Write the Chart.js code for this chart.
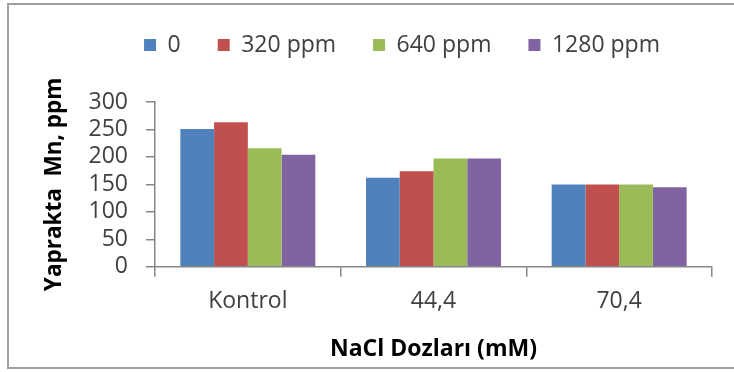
<!DOCTYPE html>
<html lang="tr">
<head>
  <meta charset="UTF-8">
  <script src="https://cdn.jsdelivr.net/npm/chart.js@4"></script>
  <title>Yaprakta Mn</title>
  <style>
    body { margin: 0; background: #fff; }
    #frame { position: absolute; left: 7px; top: 3px; width: 740px; height: 362px; border: 2px solid #a0a0a0; }
    #mnChart { position: absolute; left: 0; top: 0; }
  </style>
</head>
<body>
  <div id="frame"></div>
  <canvas id="mnChart" width="734" height="372"></canvas>

  <script>
    // NaCl doses on the x axis
    const doses = ['Kontrol', '44,4', '70,4'];
    // Mn treatments (legend)
    const treatments = ['0', '320 ppm', '640 ppm', '1280 ppm'];
    // leaf Mn, ppm
    const mn0    = [251, 162, 150];
    const mn320  = [263, 174, 150];
    const mn640  = [216, 197, 150];
    const mn1280 = [204, 197, 145];
    const yTicks = [0, 50, 100, 150, 200, 250, 300];

    const colors = ['#4F81BD', '#C0504D', '#9BBB59', '#8064A2'];
    const axisGray = '#868686';
    const textGray = '#404040';

    // put the legend where Excel had it (centred over the plot, near the top)
    const legendPlace = {
      id: 'legendPlace',
      afterLayout(chart) {
        const lg = chart.legend;
        const pad = lg.options.labels.padding;
        const fs = lg.options.labels.font.size;
        const dy = 45 - (lg.top + pad + fs / 2);
        const dx = 402 - (lg.left + lg.right) / 2;
        lg.top += dy; lg.bottom += dy;
        lg.left += dx; lg.right += dx;
      }
    };

    const ctx = document.getElementById('mnChart').getContext('2d');
    const chart = new Chart(ctx, {
      type: 'bar',
      data: {
        labels: doses,
        datasets: [mn0, mn320, mn640, mn1280].map((vals, i) => ({
          label: treatments[i],
          data: vals,
          backgroundColor: colors[i],
          borderWidth: 0
        }))
      },
      options: {
        responsive: false,
        animation: false,
        layout: { padding: { top: 32, right: 22, bottom: 4, left: 0 } },
        datasets: {
          bar: { categoryPercentage: 0.727, barPercentage: 1 }
        },
        plugins: {
          tooltip: { enabled: false },
          legend: {
            position: 'top',
            labels: {
              boxWidth: 12,
              boxHeight: 12,
              padding: 37,
              color: textGray,
              font: { family: 'Open Sans', size: 23 }
            }
          }
        },
        scales: {
          x: {
            grid: { drawOnChartArea: false, drawTicks: true, tickLength: 10, color: axisGray, lineWidth: 1.5 },
            border: { color: axisGray, width: 1.5 },
            ticks: { color: textGray, padding: 11, font: { family: 'Open Sans', size: 23 } },
            title: {
              display: true,
              text: 'NaCl Dozları (mM)',
              color: '#000',
              padding: { top: 9, bottom: 5 },
              font: { family: 'Open Sans', size: 23, weight: 'bold' }
            }
          },
          y: {
            min: 0,
            max: 300,
            afterBuildTicks(scale) { scale.ticks = yTicks.map(v => ({ value: v })); },
            afterFit(scale) { scale.width = 155; },
            grid: { drawOnChartArea: false, drawTicks: true, tickLength: 9, color: axisGray, lineWidth: 1.5 },
            border: { color: axisGray, width: 1.5 },
            ticks: { autoSkip: false, color: textGray, padding: 18, font: { family: 'Open Sans', size: 23 } },
            title: {
              display: true,
              text: 'Yaprakta  Mn, ppm',
              color: '#000',
              padding: { top: 41, bottom: 0 },
              font: { family: 'Open Sans', size: 22.5, weight: 'bold' }
            }
          }
        }
      },
      plugins: [legendPlace]
    });
  </script>
</body>
</html>
